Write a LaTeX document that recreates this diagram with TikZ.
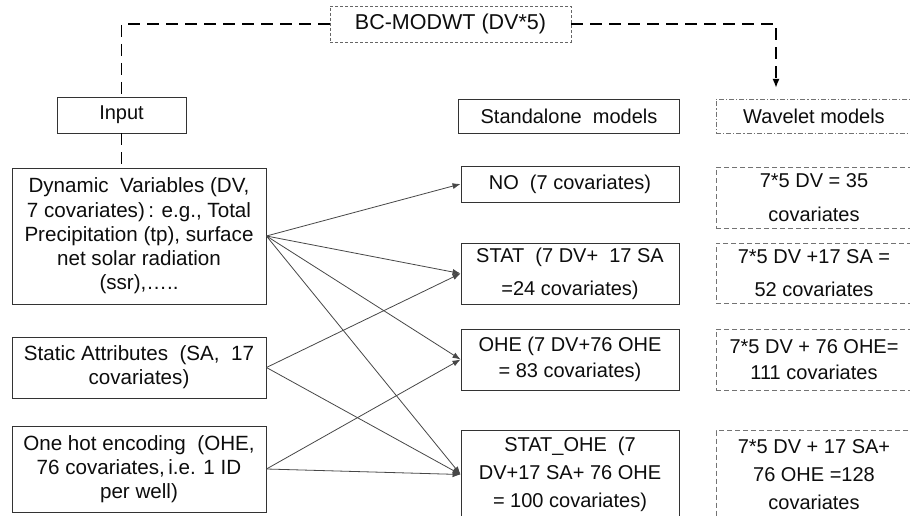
\documentclass[tikz,border=0pt]{standalone}
\usepackage{fontspec}
\setmainfont{Liberation Sans}
\usetikzlibrary{arrows.meta}

\tikzset{
  lbl/.style={align=center, inner sep=0pt, text=black!95, font=\fontsize{20}{28}\selectfont},
  leftfont/.style={font=\fontsize{20.6}{24.2}\selectfont},
  sz/.style 2 args={minimum width=#1pt, minimum height=#2pt},
  plainbox/.style={lbl, draw=black!80, line width=0.9pt},
  finebox/.style={lbl, draw=black!60, line width=0.9pt, dash pattern=on 3pt off 2pt},
  dashdotbox/.style={lbl, draw=black!55, line width=0.9pt, dash pattern=on 5pt off 2pt on 1.2pt off 2pt},
  wavebox/.style={lbl, draw=black!55, line width=0.9pt, dash pattern=on 5pt off 3pt},
  link/.style={draw=black!72, line width=0.8pt, -{Latex[length=8pt,width=6pt]}},
  bcline/.style={draw=black, line width=1.8pt, dash pattern=on 12pt off 7pt},
}

\begin{document}
\begin{tikzpicture}[x=1pt, y=-1pt]
  \useasboundingbox (0,0) rectangle (910,516);
  \fill[white] (0,0) rectangle (910,516);

  % wavelet decomposition step
  \node[finebox, sz={241}{36}, font=\fontsize{21.5}{26}\selectfont] (bc) at (450.5,24) {BC-MODWT (DV*5)};

  % inputs
  \node[plainbox, font=\fontsize{20}{24}\selectfont, sz={129}{36}] (input) at (121.5,115) {Input};
  \node[plainbox, leftfont, sz={254}{136}] (dv) at (139,236)
    {Dynamic\ \ Variables (DV,\\ 7 covariates)\,: e.g., Total\\ Precipitation (tp), surface\\ net solar radiation\\ (ssr),…..};
  \node[plainbox, leftfont, sz={254}{61}] (sa) at (139,367.5)
    {Static Attributes\ \ (SA,\ \ 17\\ covariates)};
  \node[plainbox, leftfont, sz={254}{86}] (ohein) at (139,469)
    {One hot encoding\ \ (OHE,\\ 76 covariates,\,i.e. 1 ID\\ per well)};

  % standalone models
  \node[plainbox, sz={221}{34}] (stand) at (569,116) {Standalone\ \ models};
  \node[plainbox, sz={218}{36}] (no) at (570,184) {NO\ \ (7 covariates)};
  \node[plainbox, sz={218}{61}, font=\fontsize{20}{33}\selectfont] (stat) at (570,273.5)
    {STAT\ \ (7 DV+\ \ 17 SA\\ =24 covariates)};
  \node[plainbox, sz={218}{61}, font=\fontsize{20}{26}\selectfont] (ohe) at (570,359.5)
    {OHE (7 DV+76 OHE\\ = 83 covariates)};
  \node[plainbox, sz={218}{88}] (statohe) at (570,474.5)
    {STAT\_OHE\ \ (7\\ DV+17 SA+ 76 OHE\\ = 100 covariates)};

  % wavelet models
  \node[dashdotbox, sz={196}{34}] (wav) at (814,116) {Wavelet models};
  \node[wavebox, sz={196}{61}, font=\fontsize{20}{34}\selectfont] (w1) at (814,197.5)
    {7*5 DV = 35\\ covariates};
  \node[wavebox, sz={196}{60}, font=\fontsize{20}{33}\selectfont] (w2) at (814,273)
    {7*5 DV +17 SA =\\ 52 covariates};
  \node[wavebox, sz={196}{61}, font=\fontsize{20}{26}\selectfont] (w3) at (814,359.5)
    {7*5 DV + 76 OHE=\\ 111 covariates};
  \node[wavebox, sz={196}{88}] (w4) at (814,474.5)
    {7*5 DV + 17 SA+\\ 76 OHE =128\\ covariates};

  % dashed flow of the decomposition
  \coordinate (wtip) at (776,88);
  \draw[bcline] (bc.west) -| (input.north);
  \draw[bcline, -{Latex[length=9pt,width=7pt]}] (bc.east) -| (wtip);
  \draw[bcline] (input.south) -- (input.south |- dv.north);

  % covariate groups feeding each standalone model
  \draw[link] (dv.east) -- (no.west);
  \draw[link] (dv.east) -- (stat.west);
  \draw[link] (dv.east) -- (ohe.west);
  \draw[link] (dv.east) -- (statohe.west);
  \draw[link] (sa.east) -- (stat.west);
  \draw[link] (sa.east) -- (statohe.west);
  \draw[link] (ohein.east) -- (ohe.west);
  \draw[link] (ohein.east) -- (statohe.west);
\end{tikzpicture}
\end{document}
